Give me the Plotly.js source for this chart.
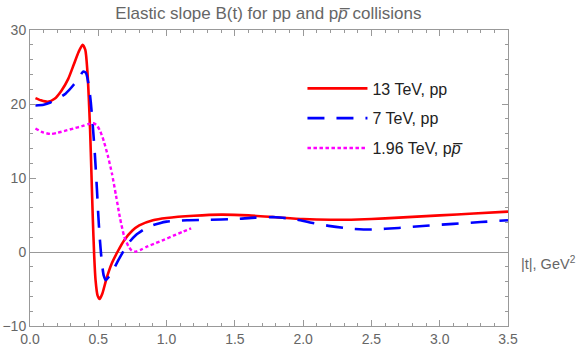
<!DOCTYPE html>
<html>
<head>
<meta charset="utf-8">
<script src="https://cdn.plot.ly/plotly-3.0.1.min.js"></script>
<style>body{margin:0;}</style>
</head>
<body>
<div id="slope" style="width:581px;height:352px;"></div>
<script>
// |t| in GeV^2, B(t) in GeV^-2
var t13 = [0.04, 0.08, 0.13, 0.18, 0.23, 0.28, 0.32, 0.355, 0.385, 0.405, 0.42, 0.43, 0.44, 0.45, 0.46, 0.47, 0.48, 0.495, 0.51, 0.53, 0.56, 0.6, 0.64, 0.69, 0.75, 0.8, 0.9, 1.0, 1.2, 1.4, 1.6, 1.8, 2.0, 2.2, 2.4, 2.6, 2.8, 3.0, 3.25, 3.5];
var b13 = [20.8, 20.5, 20.3, 20.7, 21.8, 23.4, 25.3, 27.0, 28.0, 27.3, 24.5, 21.0, 16.5, 10.5, 4.5, -0.5, -3.8, -5.9, -6.35, -5.6, -3.6, -1.5, 0.0, 1.6, 2.9, 3.6, 4.3, 4.6, 4.9, 5.05, 4.95, 4.7, 4.45, 4.35, 4.4, 4.55, 4.75, 4.95, 5.2, 5.45];

var t7 = [0.04, 0.1, 0.15, 0.2, 0.26, 0.32, 0.36, 0.39, 0.41, 0.43, 0.445, 0.46, 0.475, 0.49, 0.5, 0.51, 0.525, 0.54, 0.555, 0.58, 0.61, 0.65, 0.69, 0.73, 0.77, 0.83, 0.88, 0.95, 1.0, 1.15, 1.3, 1.5, 1.65, 1.8, 1.95, 2.05, 2.2, 2.35, 2.5, 2.7, 2.9, 3.1, 3.3, 3.5];
var b7 = [19.8, 19.9, 20.2, 20.7, 21.4, 22.6, 23.6, 24.4, 24.2, 22.5, 20.3, 17.0, 13.2, 8.5, 5.0, 2.1, -1.2, -3.2, -3.8, -3.3, -2.4, -1.0, 0.3, 1.4, 2.2, 3.0, 3.5, 3.9, 4.1, 4.3, 4.35, 4.45, 4.65, 4.7, 4.4, 4.0, 3.5, 3.15, 3.05, 3.25, 3.55, 3.8, 4.05, 4.3];

var t196 = [0.04, 0.09, 0.15, 0.2, 0.26, 0.32, 0.38, 0.43, 0.465, 0.49, 0.515, 0.54, 0.57, 0.6, 0.63, 0.66, 0.69, 0.72, 0.745, 0.77, 0.81, 0.86, 0.92, 0.98, 1.05, 1.12, 1.18];
var b196 = [16.7, 16.2, 15.95, 16.1, 16.4, 16.7, 17.0, 17.3, 17.4, 17.1, 16.3, 15.0, 13.0, 10.6, 7.6, 4.5, 2.1, 0.8, 0.2, 0.05, 0.3, 0.75, 1.2, 1.65, 2.2, 2.75, 3.2];

var names = ['13 TeV, pp', '7 TeV, pp', '1.96 TeV, p<i>p\u0305</i>'];

var data = [
  {x: t13, y: b13, name: names[0], legendgroup: 'a', type: 'scatter', mode: 'lines',
   line: {color: '#ff0000', width: 2.6, shape: 'spline', smoothing: 0.6}},
  {x: t7, y: b7, name: names[1], legendgroup: 'b', type: 'scatter', mode: 'lines',
   line: {color: '#0000ff', width: 2.6, dash: '17px,12px', shape: 'spline', smoothing: 0.6}},
  {x: t196, y: b196, name: names[2], legendgroup: 'c', type: 'scatter', mode: 'lines',
   line: {color: '#ff00ff', width: 2.4, dash: '3.5px,2.5px', shape: 'spline', smoothing: 0.6}}
];

var axisCommon = {
  showline: true, linecolor: '#999', linewidth: 1,
  mirror: 'ticks', ticks: 'inside', ticklen: 6, tickcolor: '#999',
  showgrid: false, tickfont: {family: 'Liberation Sans, Arial', size: 14, color: '#666'}
};

var layout = {
  width: 581, height: 352,
  margin: {l: 30, r: 73, t: 30, b: 26},
  paper_bgcolor: 'white', plot_bgcolor: 'white',
  title: {
    text: 'Elastic slope B(t) for pp and p<i>p\u0305</i> collisions',
    font: {family: 'Liberation Sans, Arial', size: 17, color: '#666'},
    x: 0.462, xanchor: 'center', y: 0.962, yanchor: 'middle'
  },
  xaxis: Object.assign({}, axisCommon, {
    range: [0, 3.5], dtick: 0.5, tickformat: '.1f', zeroline: false,
    minor: {dtick: 0.1, ticks: 'inside', ticklen: 3, tickcolor: '#999'}
  }),
  yaxis: Object.assign({}, axisCommon, {
    range: [-10, 30], dtick: 10, zeroline: true, zerolinecolor: '#999', zerolinewidth: 1,
    minor: {dtick: 2, ticks: 'inside', ticklen: 3, tickcolor: '#999'}
  }),
  showlegend: true,
  legend: {
    x: 0.57, y: 0.86, xanchor: 'left', yanchor: 'top',
    traceorder: 'grouped', tracegroupgap: 6,
    bgcolor: 'rgba(0,0,0,0)', itemwidth: 60,
    font: {family: 'Liberation Sans, Arial', size: 16, color: '#222'}
  },
  annotations: [{
    xref: 'paper', yref: 'y', x: 1.022, y: 0, xanchor: 'left', yanchor: 'top',
    text: '|t|, GeV<sup>2</sup>', showarrow: false,
    font: {family: 'Liberation Sans, Arial', size: 14.5, color: '#666'}
  }]
};

Plotly.newPlot('slope', data, layout, {displayModeBar: false});
</script>
</body>
</html>
